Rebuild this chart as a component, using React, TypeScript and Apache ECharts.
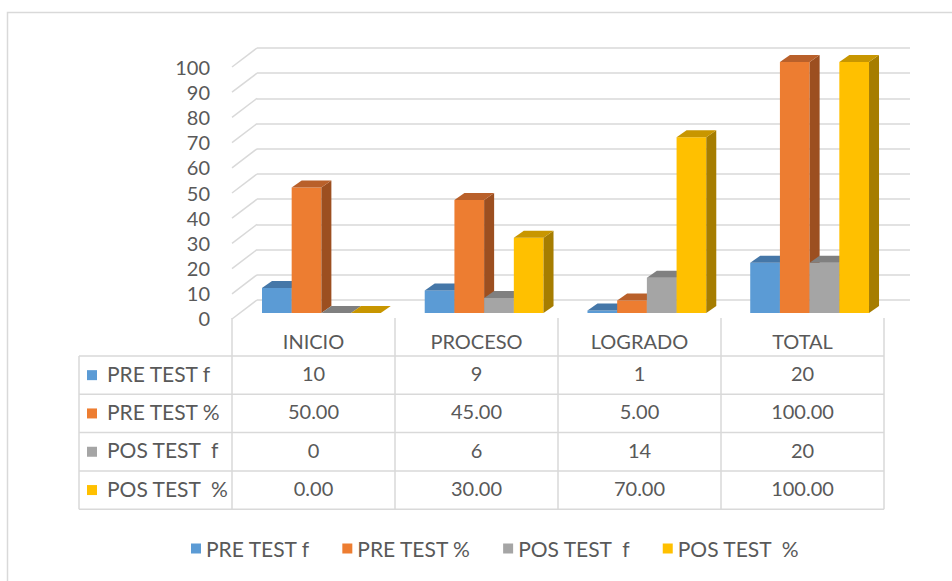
import React, { useEffect, useRef } from "react";
import * as echarts from "echarts";

const CATEGORIES = ["INICIO", "PROCESO", "LOGRADO", "TOTAL"];
const SERIES_NAMES = ["PRE TEST f", "PRE TEST %", "POS TEST  f", "POS TEST  %"];
const PRE_TEST_F = [10, 9, 1, 20];
const PRE_TEST_PCT = [50, 45, 5, 100];
const POS_TEST_F = [0, 6, 14, 20];
const POS_TEST_PCT = [0, 30, 70, 100];
const SERIES_DECIMALS = [0, 2, 0, 2];
const Y_TICKS = [0, 10, 20, 30, 40, 50, 60, 70, 80, 90, 100];

const SERIES_VALUES = [PRE_TEST_F, PRE_TEST_PCT, POS_TEST_F, POS_TEST_PCT];

const FRONT = ["#5B9BD5", "#ED7D31", "#A5A5A5", "#FFC000"];
const TOP = ["#4577A8", "#B9602A", "#808080", "#C89600"];
const SIDE = ["#3E6B96", "#9C4F20", "#7A7A7A", "#A67D00"];

const FONT = "Lato, 'Open Sans', sans-serif";
const TEXT_COLOR = "#595959";
const LINE_COLOR = "#D9D9D9";
const FS = 20;
const FS_TEXT = 21;

const BAR_FRACTION = 0.1825;
const DX = 10;
const DY = 7;

const TABLE_LEFT = 79;
const TABLE_RIGHT = 884;
const AXIS_Y = 318;
const HEADER_H = 38;
const ROW_H = 38.3;
const TEXT_NUDGE = -2;

function barRenderer(sIdx: number) {
  return (_params: any, api: any) => {
    const cat = api.value(0);
    const val = api.value(1);
    const base = api.coord([cat, 0]);
    const top = api.coord([cat, val]);
    const band = api.size([1, 0])[0];
    const bw = band * BAR_FRACTION;
    const x0 = base[0] - 2 * bw + sIdx * bw;
    const x1 = x0 + bw;
    const yt = top[1];
    const yb = base[1];
    return {
      type: "group",
      children: [
        {
          type: "rect",
          shape: { x: x0, y: yt, width: bw, height: yb - yt },
          style: { fill: FRONT[sIdx] },
        },
        {
          type: "polygon",
          shape: { points: [[x1, yt], [x1 + DX, yt - DY], [x1 + DX, yb - DY], [x1, yb]] },
          style: { fill: SIDE[sIdx] },
        },
        {
          type: "polygon",
          shape: { points: [[x0, yt], [x0 + DX, yt - DY], [x1 + DX, yt - DY], [x1, yt]] },
          style: { fill: TOP[sIdx] },
        },
      ],
    };
  };
}

export default function App() {
  const ref = useRef<HTMLDivElement>(null);

  useEffect(() => {
    if (!ref.current) return;
    const chart = echarts.init(ref.current, undefined, { renderer: "svg" });

    const barSeries = SERIES_NAMES.map((name, s) => ({
      name,
      type: "custom",
      xAxisIndex: 1,
      yAxisIndex: 1,
      itemStyle: { color: FRONT[s] },
      renderItem: barRenderer(s),
      data: SERIES_VALUES[s].map((v, i) => [i, v]),
      z: 3,
    }));

    const graphics: any[] = [
      {
        type: "rect",
        shape: { x: 7.5, y: 12.5, width: 1000, height: 700 },
        style: { fill: "none", stroke: LINE_COLOR, lineWidth: 1.5 },
        silent: true,
      },
    ];
    for (let k = 0; k <= 4; k++) {
      const y = AXIS_Y + HEADER_H + ROW_H * k;
      graphics.push({
        type: "line",
        shape: { x1: TABLE_LEFT, y1: y, x2: TABLE_RIGHT, y2: y },
        style: { stroke: LINE_COLOR, lineWidth: 1.5 },
        silent: true,
      });
    }
    graphics.push({
      type: "line",
      shape: {
        x1: TABLE_LEFT,
        y1: AXIS_Y + HEADER_H,
        x2: TABLE_LEFT,
        y2: AXIS_Y + HEADER_H + ROW_H * 4,
      },
      style: { stroke: LINE_COLOR, lineWidth: 1.5 },
      silent: true,
    });
    SERIES_NAMES.forEach((name, r) => {
      const cy = AXIS_Y + HEADER_H + ROW_H * (r + 0.5);
      graphics.push({
        type: "rect",
        shape: { x: 87, y: cy - 5, width: 10, height: 10 },
        style: { fill: FRONT[r] },
        silent: true,
      });
      graphics.push({
        type: "text",
        x: 107,
        y: cy + TEXT_NUDGE,
        style: {
          text: name,
          fill: TEXT_COLOR,
          fontSize: FS_TEXT,
          fontFamily: FONT,
          verticalAlign: "middle",
          align: "left",
        },
        silent: true,
      });
    });

    const option: any = {
      animation: false,
      backgroundColor: "#ffffff",
      grid: [
        { left: 257, right: 42, top: 48, bottom: 281 },
        { left: 240, width: 651, top: 62, bottom: 268 },
        { left: 232, right: 68, top: 67, bottom: 263 },
      ],
      xAxis: [
        { gridIndex: 0, type: "value", min: 0, max: 1, show: false },
        { gridIndex: 1, type: "category", data: CATEGORIES, show: false },
        {
          gridIndex: 2,
          type: "category",
          data: CATEGORIES,
          axisLine: { show: false },
          axisTick: {
            show: true,
            interval: 0,
            length: HEADER_H + ROW_H * 4,
            lineStyle: { color: LINE_COLOR, width: 1.5 },
          },
          axisLabel: {
            interval: 0,
            margin: 13,
            color: TEXT_COLOR,
            fontSize: FS,
            fontFamily: FONT,
          },
        },
      ],
      yAxis: [
        {
          gridIndex: 0,
          type: "value",
          min: 0,
          max: 100,
          interval: 10,
          axisLabel: { show: false },
          axisLine: { show: false },
          axisTick: { show: false },
          splitLine: { show: true, lineStyle: { color: LINE_COLOR, width: 1.5 } },
        },
        { gridIndex: 1, type: "value", min: 0, max: 100, interval: 10, show: false },
        {
          gridIndex: 2,
          type: "value",
          min: 0,
          max: 100,
          interval: 10,
          axisLine: { show: false },
          axisTick: { show: false },
          splitLine: { show: false },
          axisLabel: {
            margin: 22,
            color: TEXT_COLOR,
            fontSize: FS,
            fontFamily: FONT,
          },
        },
      ],
      legend: {
        data: SERIES_NAMES.map((n, i) => ({ name: n, icon: "rect", itemStyle: { color: FRONT[i] } })),
        left: 186,
        top: 533,
        itemWidth: 10,
        itemHeight: 10,
        itemGap: 32,
        textStyle: { color: TEXT_COLOR, fontSize: FS_TEXT, fontFamily: FONT },
        selectedMode: false,
      },
      graphic: graphics,
      series: [
        {
          type: "custom",
          name: "wall",
          xAxisIndex: 0,
          yAxisIndex: 0,
          silent: true,
          data: Y_TICKS.map((v) => [0, v]),
          renderItem: (_p: any, api: any) => {
            const p = api.coord([0, api.value(1)]);
            return {
              type: "line",
              shape: { x1: p[0], y1: p[1], x2: p[0] - 25, y2: p[1] + 19 },
              style: { stroke: LINE_COLOR, lineWidth: 1.5 },
            };
          },
          z: 1,
        },
        ...barSeries,
        {
          type: "custom",
          name: "table",
          xAxisIndex: 2,
          yAxisIndex: 2,
          silent: true,
          data: CATEGORIES.map((_c, i) => [i, 0]),
          renderItem: (_p: any, api: any) => {
            const i = api.value(0);
            const p = api.coord([i, 0]);
            return {
              type: "group",
              children: SERIES_VALUES.map((vals, r) => ({
                type: "text",
                x: p[0],
                y: p[1] + HEADER_H + ROW_H * (r + 0.5) + TEXT_NUDGE,
                style: {
                  text: vals[i].toFixed(SERIES_DECIMALS[r]),
                  fill: TEXT_COLOR,
                  fontSize: FS,
                  fontFamily: FONT,
                  align: "center",
                  verticalAlign: "middle",
                },
              })),
            };
          },
          z: 2,
        },
      ],
    };

    chart.setOption(option);
    return () => chart.dispose();
  }, []);

  return (
    <div
      ref={ref}
      style={{ position: "absolute", left: 0, top: 0, width: 952, height: 581 }}
    />
  );
}
